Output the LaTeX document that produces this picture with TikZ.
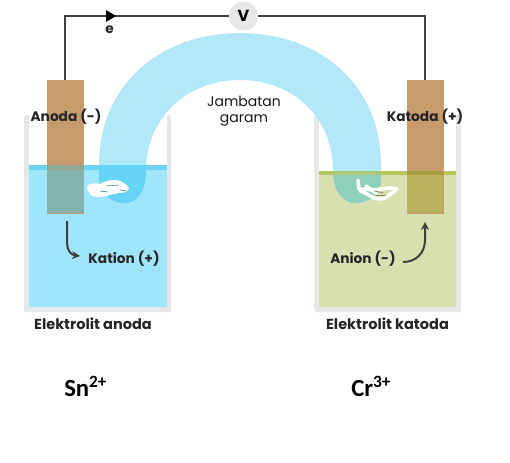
\documentclass[tikz,border=0pt]{standalone}
\usepackage{fontspec}
\setmainfont{Poppins}
\newfontfamily\numfont{Carlito}
\usetikzlibrary{arrows.meta}
\definecolor{wallc}{HTML}{E6E8E8}
\definecolor{bridgec}{HTML}{B2E8F8}
\definecolor{bluel}{HTML}{9FE5FB}
\definecolor{blueband}{HTML}{6FD3F2}
\definecolor{blueover}{HTML}{66D4F5}
\definecolor{brownc}{HTML}{C69C6D}
\definecolor{brownblue}{HTML}{84B3AE}
\definecolor{brownband}{HTML}{8FA68F}
\definecolor{greenl}{HTML}{D9E0B0}
\definecolor{greenband}{HTML}{B8C45E}
\definecolor{greenover}{HTML}{8FD0BB}
\definecolor{browngreen}{HTML}{BAB060}
\definecolor{browngband}{HTML}{A8A040}
\definecolor{wirec}{HTML}{404040}
\tikzset{
  lab/.style={font=\fontsize{10.3}{12}\selectfont\bfseries, text=black!85, inner sep=0pt, align=center},
  labwide/.style={font=\fontsize{10.9}{12}\selectfont\bfseries, text=black!85, inner sep=0pt, align=center},
  lablight/.style={font=\fontsize{10.5}{12}\selectfont, text=black!90, inner sep=0pt, align=center},
  ion/.style={font=\fontsize{18.5}{20}\selectfont\numfont\bfseries, text=black, inner sep=0pt, anchor=base west},
  wire/.style={draw=wirec, line width=1.5pt},
  curved/.style={draw=wirec, line width=1.5pt, -{Stealth[length=6pt,width=6pt]}},
  electrode/.style={minimum width=27.5pt, minimum height=100pt, inner sep=0pt, fill=brownc, anchor=north west},
  scribble/.style={draw=white, line width=2.6pt, line join=round, line cap=round},
  speck/.style={draw=blueover!70!black, line width=0.5pt},
  speckg/.style={draw=greenl!60!black, line width=0.5pt}
}
\begin{document}
\begin{tikzpicture}[x=0.75pt,y=-0.75pt]
\useasboundingbox (0,0) rectangle (510,462);
% beaker walls
\fill[wallc, rounded corners=1.5pt] (24,115) rectangle (171,312);
\fill[white] (29,110) rectangle (167,307);
\fill[wallc, rounded corners=1.5pt] (314,115) rectangle (461,312);
\fill[white] (319,110) rectangle (456,307);
% liquids
\fill[bluel] (29,165) rectangle (167,307);
\fill[blueband] (29,165) rectangle (167,170);
\fill[greenl] (319,171) rectangle (456,307);
\fill[greenband] (319,171) rectangle (456,175);
% electrodes
\node[electrode] (anode) at (47,80) {};
\node[electrode] (cathode) at (407,80) {};
\fill[brownblue] (47,170) rectangle (84,213);
\fill[brownband] (47,165) rectangle (84,170);
\fill[browngreen] (407,175) rectangle (443,213);
\fill[browngband] (407,171) rectangle (443,175);
% salt bridge
\fill[bridgec] (99,165) .. controls (99,85) and (160,33) .. (240,33) .. controls (320,33) and (381,85) .. (381,165) -- (381,180) .. controls (381,195) and (368,204) .. (352,203) .. controls (342,200) and (333,192) .. (333,170) .. controls (333,120) and (295,80) .. (240,80) .. controls (185,80) and (146,120) .. (146,170) .. controls (146,193) and (136,204) .. (124,203) .. controls (110,203) and (99,193) .. (99,175) -- cycle;
\begin{scope}
\clip (95,165) rectangle (150,210);
\fill[blueover] (99,160) -- (146,160) -- (146,170) .. controls (146,193) and (136,204) .. (124,203) .. controls (110,203) and (99,193) .. (99,175) -- cycle;
\end{scope}
\begin{scope}
\clip (330,171) rectangle (385,210);
\fill[greenover] (333,160) -- (381,160) -- (381,180) .. controls (381,195) and (368,204) .. (352,203) .. controls (342,200) and (333,192) .. (333,170) -- cycle;
\fill[greenband!70!greenover] (333,171) rectangle (381,175);
\end{scope}
% scribbles
\fill[white] (87,186) .. controls (90,183) and (96,183) .. (100,184) .. controls (105,181) and (110,180) .. (114,180) .. controls (122,180) and (126,184) .. (129,188) .. controls (129,192) and (124,193) .. (118,193) .. controls (110,195) and (104,197) .. (98,197) .. controls (91,197) and (87,192) .. (87,186) -- cycle;
\draw[speck] (106,186) -- (119,185);
\draw[speck] (120,190) -- (127,191);
\draw[speck] (100,191) -- (108,192);
\draw[scribble] (358,180) -- (359,189) -- (366,189) .. controls (373,192) and (386,186) .. (397,189);
\draw[scribble] (360,191) .. controls (368,193) and (372,199) .. (380,199) .. controls (386,199) and (390,194) .. (396,190);
\draw[scribble] (366,186) -- (376,193);
\draw[speckg] (374,191) -- (384,193);
\draw[speckg] (376,195) -- (386,195);
% circuit
\node[circle, fill=wallc, minimum size=21.75pt, inner sep=0pt, font=\fontsize{12}{12}\selectfont\bfseries] (volt) at (243.5,16) {V};
\coordinate (lc) at (65,16);
\coordinate (rc) at (425,16);
\coordinate (an) at (65,80);
\coordinate (ct) at (425,80);
\draw[wire] (an) -- (lc) -- (volt);
\draw[wire] (volt) -- (rc) -- (ct);
\fill[black] (106,10) -- (116,16) -- (106,22) -- cycle;
% labels
\node[lab] (e) at (109.5,30) {e};
\node[lab] (lanoda) at (66,117) {Anoda (-)};
\node[lab] (lkatoda) at (425,117) {Katoda (+)};
\node[lab] (lkation) at (124,259) {Kation (+)};
\node[lab] (lanion) at (363,259) {Anion (-)};
\node[lablight] (ljemb) at (244,111) {Jambatan\\garam};
\node[labwide] (lea) at (93,324) {Elektrolit anoda};
\node[labwide] (lek) at (387.5,324) {Elektrolit katoda};
\node[ion] (sn) at (64,396) {Sn\textsuperscript{2+}};
\node[ion] (cr) at (351,396) {Cr\textsuperscript{3+}};
% ion arrows
\coordinate (ka) at (67,221);
\coordinate (kb) at (80,256);
\coordinate (aa) at (403,262);
\coordinate (ab) at (425,222);
\draw[curved] (ka) -- (67,243) .. controls (67,250) and (71,255) .. (kb);
\draw[curved] (aa) .. controls (416,262) and (425,253) .. (425,240) -- (ab);
\end{tikzpicture}
\end{document}
